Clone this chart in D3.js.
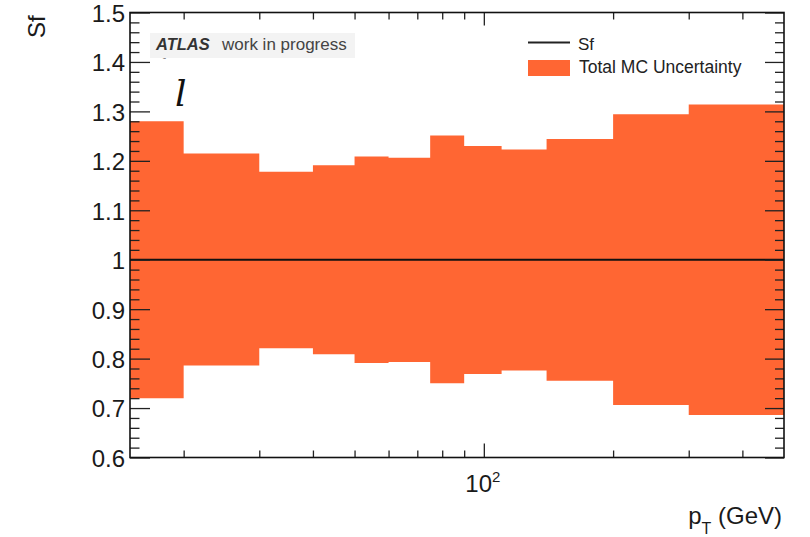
<!DOCTYPE html>
<html>
<head>
<meta charset="utf-8">
<script src="https://cdn.jsdelivr.net/npm/d3@7"></script>
<style>
  body { margin: 0; background: #fff; }
  svg text { font-family: "Liberation Sans", Arial, Helvetica, sans-serif; }
</style>
</head>
<body>
<svg id="chart" width="810" height="537"></svg>
<script>
// Scale factor vs pT: bin edges (GeV), central values and total MC uncertainty band
const binEdges = [15, 20, 30, 40, 50, 60, 75, 90, 110, 140, 200, 300, 500];
const sfValues = [1, 1, 1, 1, 1, 1, 1, 1, 1, 1, 1, 1];
const uncUp   = [1.280, 1.215, 1.178, 1.191, 1.209, 1.206, 1.251, 1.230, 1.223, 1.244, 1.294, 1.314];
const uncDown = [0.720, 0.786, 0.821, 0.809, 0.791, 0.793, 0.750, 0.769, 0.776, 0.755, 0.706, 0.686];

const yMajorTicks = [0.6, 0.7, 0.8, 0.9, 1.0, 1.1, 1.2, 1.3, 1.4, 1.5];
const yTickLabels = ["0.6", "0.7", "0.8", "0.9", "1", "1.1", "1.2", "1.3", "1.4", "1.5"];
const xMajorTicks = [100];
const xMinorTicks = [20, 30, 40, 50, 60, 70, 80, 90, 200, 300, 400];

const fillColor = "#ff6633";

const svg = d3.select("#chart");
const frame = { left: 130, right: 784, top: 12.5, bottom: 457.5 };

const x = d3.scaleLog().domain([15, 500]).range([frame.left, frame.right]);
const y = d3.scaleLinear().domain([0.6, 1.5]).range([frame.bottom, frame.top]);

// minor y ticks every 0.02
const yMinorTicks = d3.range(0, 46).map(i => +(0.6 + i * 0.02).toFixed(2))
  .filter(v => !yMajorTicks.some(m => Math.abs(m - v) < 1e-9));

// uncertainty band as one stepped area
const bandPts = [];
binEdges.slice(0, -1).forEach((e, i) => {
  bandPts.push({ x: e, up: uncUp[i], down: uncDown[i] });
  bandPts.push({ x: binEdges[i + 1], up: uncUp[i], down: uncDown[i] });
});
svg.append("path")
  .datum(bandPts)
  .attr("fill", fillColor)
  .attr("d", d3.area().x(d => x(d.x)).y0(d => y(d.down)).y1(d => y(d.up)));

// central scale factor
const sfPts = [];
binEdges.slice(0, -1).forEach((e, i) => {
  sfPts.push({ x: e, v: sfValues[i] });
  sfPts.push({ x: binEdges[i + 1], v: sfValues[i] });
});
svg.append("path")
  .datum(sfPts)
  .attr("fill", "none")
  .attr("stroke", "#111")
  .attr("stroke-width", 2)
  .attr("d", d3.line().x(d => x(d.x)).y(d => y(d.v)));

// axes
function styleAxis(g) {
  g.select(".domain").remove();
  g.selectAll(".tick line").attr("stroke", "#222").attr("stroke-width", 1.3);
}
const labelMap = new Map(yMajorTicks.map((v, i) => [v, yTickLabels[i]]));

svg.append("g").attr("transform", `translate(${frame.left},0)`)
  .call(d3.axisLeft(y).tickValues(yMajorTicks).tickSize(-20).tickPadding(5)
    .tickFormat(v => labelMap.get(v)))
  .call(styleAxis)
  .call(g => g.selectAll("text").attr("font-size", 24).attr("fill", "#1a1a1a")
    .attr("dy", "0.37em").style("font-family", '"Liberation Sans", Arial, sans-serif'));
svg.append("g").attr("transform", `translate(${frame.left},0)`)
  .call(d3.axisLeft(y).tickValues(yMinorTicks).tickSize(-9.5).tickFormat(""))
  .call(styleAxis);
svg.append("g").attr("transform", `translate(${frame.right},0)`)
  .call(d3.axisRight(y).tickValues(yMajorTicks).tickSize(-19).tickFormat(""))
  .call(styleAxis);
svg.append("g").attr("transform", `translate(${frame.right},0)`)
  .call(d3.axisRight(y).tickValues(yMinorTicks).tickSize(-9).tickFormat(""))
  .call(styleAxis);

svg.append("g").attr("transform", `translate(0,${frame.bottom})`)
  .call(d3.axisBottom(x).tickValues(xMajorTicks).tickSize(-14).tickFormat(""))
  .call(styleAxis);
svg.append("g").attr("transform", `translate(0,${frame.bottom})`)
  .call(d3.axisBottom(x).tickValues(xMinorTicks).tickSize(-7).tickFormat(""))
  .call(styleAxis);
svg.append("g").attr("transform", `translate(0,${frame.top})`)
  .call(d3.axisTop(x).tickValues(xMajorTicks).tickSize(-13).tickFormat(""))
  .call(styleAxis);
svg.append("g").attr("transform", `translate(0,${frame.top})`)
  .call(d3.axisTop(x).tickValues(xMinorTicks).tickSize(-7).tickFormat(""))
  .call(styleAxis);

// 10^2 label
xMajorTicks.forEach(v => {
  const t = svg.append("text").attr("x", x(v) - 1).attr("y", 491.5)
    .attr("text-anchor", "middle").attr("fill", "#1a1a1a").attr("font-size", 24);
  t.append("tspan").text("10");
  t.append("tspan").attr("dy", -10).attr("font-size", 15).text(Math.round(Math.log10(v)));
});

// frame
svg.append("rect")
  .attr("x", frame.left).attr("y", frame.top)
  .attr("width", frame.right - frame.left).attr("height", frame.bottom - frame.top)
  .attr("fill", "none").attr("stroke", "#111").attr("stroke-width", 1.6);

// axis titles
const xt = svg.append("text").attr("x", 782).attr("y", 524)
  .attr("text-anchor", "end").attr("font-size", 24).attr("fill", "#1a1a1a");
xt.append("tspan").text("p");
xt.append("tspan").attr("dy", 10).attr("font-size", 16).text("T");
xt.append("tspan").attr("dy", -10).text(" (GeV)");

svg.append("text")
  .attr("transform", "translate(45,38) rotate(-90)")
  .attr("font-size", 24).attr("fill", "#1a1a1a").text("Sf");

// experiment label
svg.append("rect").attr("x", 150).attr("y", 33).attr("width", 205).attr("height", 25)
  .attr("fill", "#f3f3f3");
svg.append("clipPath").attr("id", "lblclip")
  .append("rect").attr("x", 150).attr("y", 33).attr("width", 205).attr("height", 26);
svg.append("text").attr("x", 160).attr("y", 70).attr("font-size", 16)
  .attr("font-style", "italic").attr("fill", "#888").attr("clip-path", "url(#lblclip)").text("f");
svg.append("text").attr("x", 156).attr("y", 50).attr("font-size", 16.5)
  .attr("font-weight", "bold").attr("font-style", "italic").attr("fill", "#333").text("ATLAS");
svg.append("text").attr("x", 222).attr("y", 50).attr("font-size", 17)
  .attr("fill", "#444").text("work in progress");

svg.append("text").attr("x", 175).attr("y", 106)
  .style("font-family", '"DejaVu Serif", "Liberation Serif", serif')
  .attr("font-style", "italic").attr("font-size", 36).attr("fill", "#111").text("l");

// legend
const lg = svg.append("g");
lg.append("line").attr("x1", 528).attr("x2", 570).attr("y1", 42.5).attr("y2", 42.5)
  .attr("stroke", "#222").attr("stroke-width", 2);
lg.append("text").attr("x", 578).attr("y", 49.5).attr("font-size", 17).attr("fill", "#222").text("Sf");
lg.append("rect").attr("x", 528).attr("y", 60).attr("width", 42).attr("height", 16).attr("fill", fillColor);
lg.append("text").attr("x", 579).attr("y", 73).attr("font-size", 17.5).attr("fill", "#222")
  .text("Total MC Uncertainty");
</script>
</body>
</html>
